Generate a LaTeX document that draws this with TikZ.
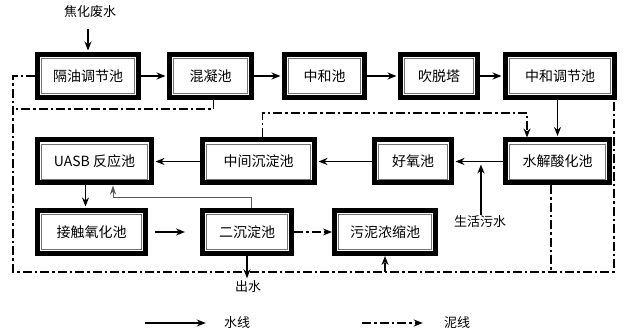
\documentclass[tikz,border=0pt]{standalone}
\usepackage{fontspec}
\usepackage{tikz}
\usetikzlibrary{arrows.meta,positioning,calc}
\newfontfamily\cjk{Noto Sans CJK SC}

\begin{document}
\begin{tikzpicture}[x=1pt, y=1pt,
    pool/.style={draw, line width=5pt, fill=white, minimum height=43pt, minimum width=#1, inner sep=1pt, font=\cjk\fontsize{14}{16}\selectfont,
      path picture={\draw[line width=0.7pt, black!55] ([shift={(4pt,4pt)}]path picture bounding box.south west) rectangle ([shift={(-4pt,-4pt)}]path picture bounding box.north east);}},
    lbl/.style={font=\cjk\fontsize{13}{15}\selectfont, inner sep=1pt},
    water/.style={-{Stealth[length=9pt,width=7pt]}, line width=1.6pt, shorten >=1.5pt},
    backflow/.style={-{Stealth[length=9pt,width=6pt]}, line width=0.9pt, black!65},
    sludge/.style={line width=1.8pt, dash pattern=on 9pt off 3pt on 2.5pt off 3pt},
    sludgearr/.style={sludge, -{Stealth[length=9pt,width=7pt]}}
]
\useasboundingbox (0,0) rectangle (624,336);

\node[pool=101pt] (geyou) at (88,260) {隔油调节池};
\node[pool=82pt, right=26pt of geyou] (hunning) {混凝池};
\node[pool=80pt, right=28pt of hunning] (zhonghe) {中和池};
\node[pool=77pt, right=31pt of zhonghe] (chuituo) {吹脱塔};
\node[pool=109pt, right=23pt of chuituo] (tiaojie) {中和调节池};

\node[pool=114pt] (uasb) at (94.5,174.5) {UASB 反应池};
\node[pool=112pt, right=46pt of uasb] (zhongjian) {中间沉淀池};
\node[pool=77pt, right=55pt of zhongjian] (haoyang) {好氧池};
\node[pool=104pt, right=49pt of haoyang] (shuijie) {水解酸化池};

\node[pool=108pt] (jiechu) at (91.5,104) {接触氧化池};
\node[pool=89pt, right=52pt of jiechu] (erchen) {二沉淀池};
\node[pool=101pt, right=38pt of erchen] (nongsuo) {污泥浓缩池};

\node[lbl] (feed) at (90,324) {焦化废水};
\node[lbl] (outlet) at (248,49) {出水};
\node[lbl] (life) at (480,114) {生活污水};
\node[lbl] (wlbl) at (237,13) {水线};
\node[lbl] (slbl) at (457,13) {泥线};

\coordinate (wstart) at (145,13);
\coordinate (sstart) at (362,13);
\coordinate (bl) at (13,64);
\coordinate (br) at (614,64);
\coordinate (lj) at (13,227);
\coordinate (cr) at (527,223);
\coordinate (bend) at (113,139);
\coordinate (merge) at ($(haoyang.east)!0.55!(shuijie.west)$);

\draw[water, shorten <=10pt] (feed.south -| geyou.north) -- (geyou.north);
\draw[water] (geyou) -- (hunning);
\draw[water] (hunning) -- (zhonghe);
\draw[water] (zhonghe) -- (chuituo);
\draw[water] (chuituo) -- (tiaojie);
\draw[water] (tiaojie.south -| shuijie.north) -- (shuijie.north);
\draw[water] (shuijie) -- (haoyang);
\draw[water] (haoyang) -- (zhongjian);
\draw[water] (zhongjian) -- (uasb);
\draw[water, shorten >=3pt] (merge |- life.north) -- (merge);
\draw[water] ([xshift=-9pt]uasb.south) -- ([xshift=-9pt]uasb.south |- jiechu.north);
\draw[water, shorten <=7pt, shorten >=15pt] (jiechu) -- (erchen);
\draw[water] (erchen.south) -- (erchen.south |- outlet.north);
\draw[backflow] ([xshift=4pt]erchen.north) |- (bend) -- (bend |- uasb.south);

\draw[sludge] (geyou.west) -| (bl) -- (br) -- (br |- tiaojie.south);
\draw[sludge] ([xshift=3pt]hunning.south) |- (lj);
\draw[sludgearr] ([xshift=4pt]zhongjian.north) |- (cr) -- (cr |- shuijie.north);
\draw[sludge] ([xshift=-6.5pt]shuijie.south) -- ([xshift=-6.5pt]shuijie.south |- bl);
\draw[sludgearr] (nongsuo.south |- bl) -- (nongsuo.south);
\draw[sludgearr] (erchen) -- (nongsuo);

\draw[water, shorten >=17pt] (wstart) -- (wlbl.west);
\draw[sludgearr, shorten >=20pt] (sstart) -- (slbl.west);
\end{tikzpicture}
\end{document}
